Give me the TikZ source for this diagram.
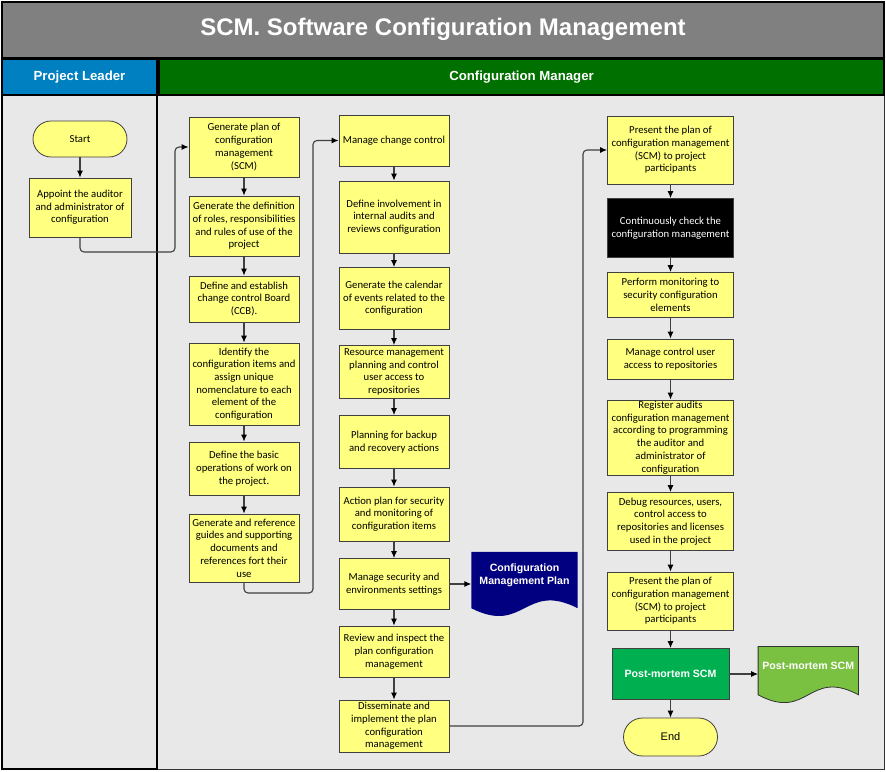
\documentclass[tikz,border=0pt]{standalone}
\usepackage{fontspec}
\setmainfont{Carlito}
\newfontfamily\headfont{Liberation Sans}
\usetikzlibrary{calc,arrows.meta}
\definecolor{titlegray}{RGB}{128,128,128}
\definecolor{leaderblue}{RGB}{0,128,192}
\definecolor{managergreen}{RGB}{0,112,0}
\definecolor{lanegray}{RGB}{232,232,232}
\definecolor{taskyellow}{RGB}{255,255,128}
\definecolor{plannavy}{RGB}{0,0,128}
\definecolor{mortemgreen}{RGB}{0,176,80}
\definecolor{docgreen}{RGB}{122,193,66}
\tikzset{>={Latex[length=7pt,width=6pt,color=black]}, % filled tips
  scm diagram/.style={
    x=1pt,
    y=-1pt,
    font={\fontsize{10.7}{12.7}\selectfont},
  },
  task/.style={draw=black!75, line width=0.8pt, fill=taskyellow,
    align=center, inner xsep=1pt, inner ysep=0pt},
  terminal/.style={task, rounded corners=18pt},
  link/.style={->, draw=black!75, line width=1.1pt, rounded corners=4pt},
  header/.style={draw=black, line width=2pt, text=white,
    font={\headfont\bfseries\fontsize{13.2}{15}\selectfont}},
  docbox/.style={inner sep=0pt},
  doctext/.style={align=center, text=white,
    font={\headfont\bfseries\fontsize{10.6}{12.7}\selectfont}},
}
% wavy lower edge of a document shape, taken from a node's corners
\def\wavedepth{27}
\newcommand\wavedoc[1]{(#1.north west) -- (#1.north east) -- (#1.south east)
  .. controls ($(#1.south)+(0,-\wavedepth)$) and ($(#1.south)+(0,\wavedepth)$)
  .. (#1.south west) -- cycle}

\begin{document}
\begin{tikzpicture}[scm diagram]
  \useasboundingbox (0,0) rectangle (886,771);

  % lanes
  \fill [lanegray] (1,95) rectangle (885,770);
  \draw [black!80, line width=1pt] (157,95) rectangle (884.5,769.5);
  \draw [line width=2.5pt] (2,95) rectangle (157,769);

  \node [header, fill=titlegray, minimum width=882, minimum height=56,
    font={\headfont\bfseries\fontsize{24}{28}\selectfont}]
  (title) at (443,29.5) {SCM. Software Configuration Management};
  \node [header, fill=leaderblue, minimum width=155, minimum height=36]
  (leaderhead) at (79.5,77) {Project Leader};
  \node [header, fill=managergreen, minimum width=725, minimum height=36]
  (managerhead) at (521.5,77) {Configuration Manager};

  % project leader
  \node [terminal, minimum width=94, minimum height=36] (start) at (80,139) {Start};
  \node [task, minimum width=102, minimum height=59] (appoint) at (80,207.5)
  {Appoint the auditor\\and administrator of\\configuration};

  % first column
  \node [task, minimum width=110, minimum height=60] (genplan) at (244,147)
  {Generate plan of\\configuration\\management\\(SCM)};
  \node [task, minimum width=110, minimum height=60] (gendef) at (244,226)
  {Generate the definition\\of roles, responsibilities\\and rules of use of the\\project};
  \node [task, minimum width=110, minimum height=46] (ccb) at (244,299)
  {Define and establish\\change control Board\\(CCB).};
  \node [task, minimum width=110, minimum height=82] (identify) at (244,384)
  {Identify the\\configuration items and\\assign unique\\nomenclature to each\\element of the\\configuration};
  \node [task, minimum width=110, minimum height=53] (basic) at (244,468.5)
  {Define the basic\\operations of work on\\the project.};
  \node [task, minimum width=110, minimum height=68] (guides) at (244,548)
  {Generate and reference\\guides and supporting\\documents and\\references fort their\\use};

  % second column
  \node [task, minimum width=110, minimum height=51] (change) at (394,140.5)
  {Manage change control};
  \node [task, minimum width=110, minimum height=72] (involve) at (394,217)
  {Define involvement in\\internal audits and\\reviews configuration};
  \node [task, minimum width=110, minimum height=62] (calendar) at (394,298.5)
  {Generate the calendar\\of events related to the\\configuration};
  \node [task, minimum width=110, minimum height=53] (resource) at (394,372)
  {Resource management\\planning and control\\user access to\\repositories};
  \node [task, minimum width=110, minimum height=53] (backup) at (394,442)
  {Planning for backup\\and recovery actions};
  \node [task, minimum width=110, minimum height=54] (action) at (394,514)
  {Action plan for security\\and monitoring of\\configuration items};
  \node [task, minimum width=110, minimum height=51] (security) at (394,584)
  {Manage security and\\environments settings};
  \node [task, minimum width=110, minimum height=51] (review) at (394,651.5)
  {Review and inspect the\\plan configuration\\management};
  \node [task, minimum width=110, minimum height=52] (dissem) at (394,726)
  {Disseminate and\\implement the plan\\configuration\\management};

  \node [docbox, minimum width=106, minimum height=56] (plan) at (524.5,580) {};
  \fill [plannavy] \wavedoc{plan};
  \node [doctext] (plantext) at (524.5,575.5) {Configuration\\Management Plan};

  % third column
  \node [task, minimum width=126, minimum height=68] (present) at (670.5,150)
  {Present the plan of\\configuration management\\(SCM) to project\\participants};
  \node [task, fill=black, text=white, minimum width=126, minimum height=59]
  (check) at (670.5,228) {Continuously check the\\configuration management};
  \node [task, minimum width=126, minimum height=45] (monitor) at (670.5,295)
  {Perform monitoring to\\security configuration\\elements};
  \node [task, minimum width=126, minimum height=40] (userctl) at (670.5,359)
  {Manage control user\\access to repositories};
  \node [task, minimum width=126, minimum height=75] (register) at (670.5,437.5)
  {Register audits\\configuration management\\according to programming\\the auditor and\\administrator of\\configuration};
  \node [task, minimum width=126, minimum height=58] (debug) at (670.5,521.5)
  {Debug resources, users,\\control access to\\repositories and licenses\\used in the project};
  \node [task, minimum width=126, minimum height=58] (represent) at (670.5,601)
  {Present the plan of\\configuration management\\(SCM) to project\\participants};
  \node [task, fill=mortemgreen, text=white, minimum width=117, minimum height=51,
    font={\headfont\bfseries\fontsize{10.6}{12.7}\selectfont}]
  (postmortem) at (670.5,674) {Post-mortem SCM};
  \node [terminal, rounded corners=19pt, minimum width=94, minimum height=38,
    font={\headfont\fontsize{11}{13}\selectfont}] (end) at (670.5,737) {End};

  \node [docbox, minimum width=100, minimum height=48] (pmdoc) at (808.3,670.6) {};
  \filldraw [fill=docgreen, draw=black!80, line width=0.8pt] \wavedoc{pmdoc};
  \node [doctext] (pmdoctext) at (808.3,666) {Post-mortem SCM};

  % connectors
  \draw [link] (start) -- (appoint);
  \coordinate (jog1) at (175,252);
  \draw [link] (appoint.south) |- (jog1) |- (genplan.west);

  \draw [link] (genplan) -- (gendef);
  \draw [link] (gendef) -- (ccb);
  \draw [link] (ccb) -- (identify);
  \draw [link] (identify) -- (basic);
  \draw [link] (basic) -- (guides);
  \coordinate (jog2) at (313,593);
  \draw [link] (guides.south) |- (jog2) |- (change.west);

  \draw [link] (change) -- (involve);
  \draw [link] (involve) -- (calendar);
  \draw [link] (calendar) -- (resource);
  \draw [link] (resource) -- (backup);
  \draw [link] (backup) -- (action);
  \draw [link] (action) -- (security);
  \draw [link] (security) -- (review);
  \draw [link] (review) -- (dissem);
  \draw [link] (security.east) -- (security.east -| plan.west);
  \coordinate (jog3) at (583,150);
  \draw [link] (dissem.east) -| (jog3) -- (present.west);

  \draw [link] (present) -- (check);
  \draw [link] (check) -- (monitor);
  \draw [link] (monitor) -- (userctl);
  \draw [link] (userctl) -- (register);
  \draw [link] (register) -- (debug);
  \draw [link] (debug) -- (represent);
  \draw [link] (represent) -- (postmortem);
  \draw [link] (postmortem) -- (end);
  \draw [link] (postmortem.east) -- (postmortem.east -| pmdoc.west);

\end{tikzpicture}
\end{document}
